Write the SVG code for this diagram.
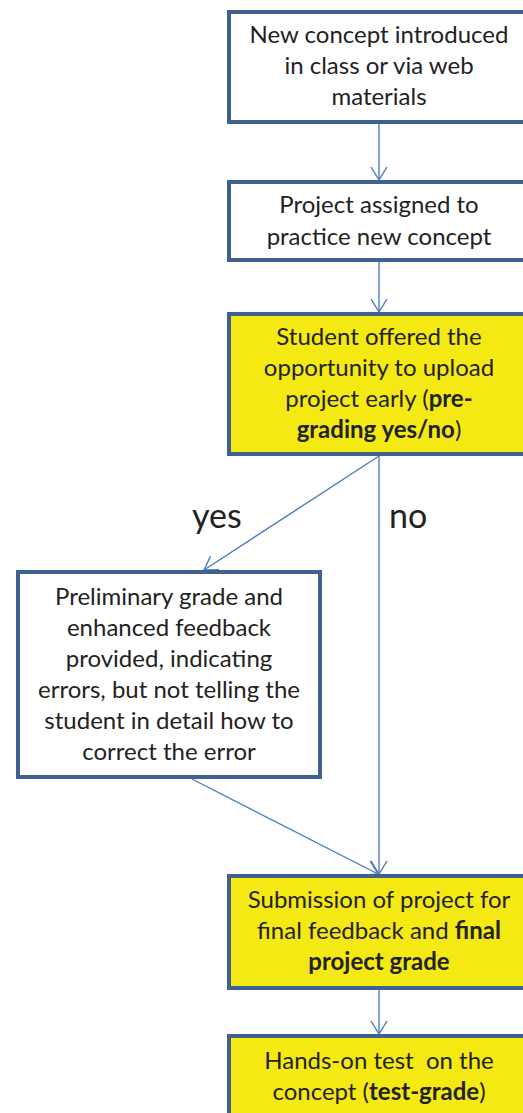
<svg xmlns="http://www.w3.org/2000/svg" width="523" height="1113" viewBox="0 0 523 1113">
<style>
.box{stroke:#3e6190;stroke-width:4;}
.w{fill:#ffffff;}
.y{fill:#f5e914;}
.t{font-family:Lato,"Noto Sans",sans-serif;font-size:24px;fill:#222222;text-anchor:middle;}
.b{font-weight:bold;}
.lbl{font-family:Lato,"Noto Sans",sans-serif;font-size:34px;fill:#222222;}
.c{stroke:#4a7ebb;stroke-width:1.4;fill:none;}
</style>
<defs>
<marker id="ah" viewBox="0 0 14 18" refX="13" refY="9" markerWidth="14" markerHeight="18" markerUnits="userSpaceOnUse" orient="auto">
<path d="M0,1 L13,9 L0,17" fill="none" stroke="#4a7ebb" stroke-width="1.4"/>
</marker>
</defs>
<g id="connectors">
<line class="c" x1="379" y1="124" x2="379" y2="180" marker-end="url(#ah)"/>
<line class="c" x1="379" y1="262" x2="379" y2="312" marker-end="url(#ah)"/>
<line class="c" x1="379" y1="456" x2="204" y2="570" marker-end="url(#ah)"/>
<line class="c" x1="379" y1="456" x2="379" y2="874" marker-end="url(#ah)"/>
<line class="c" x1="192" y1="779" x2="378" y2="874" marker-end="url(#ah)"/>
<line class="c" x1="379" y1="990" x2="379" y2="1034" marker-end="url(#ah)"/>
</g>
<g id="label-yes"><text class="lbl" x="192" y="528">yes</text></g>
<g id="label-no"><text class="lbl" x="389" y="528">no</text></g>
<g id="n1">
<rect class="box w" x="229" y="12" width="302" height="110"/>
<text class="t" x="379" y="43">New concept introduced</text>
<text class="t" x="379" y="74">in class or via web</text>
<text class="t" x="379" y="105">materials</text>
</g>
<g id="n2">
<rect class="box w" x="229" y="182" width="302" height="78"/>
<text class="t" x="379" y="213">Project assigned to</text>
<text class="t" x="379" y="245">practice new concept</text>
</g>
<g id="n3">
<rect class="box y" x="229" y="314" width="302" height="140"/>
<text class="t" x="379" y="345">Student offered the</text>
<text class="t" x="379" y="376">opportunity to upload</text>
<text class="t" x="379" y="407">project early (<tspan class="b">pre-</tspan></text>
<text class="t" x="379" y="438"><tspan class="b">grading yes/no</tspan>)</text>
</g>
<g id="n4">
<rect class="box w" x="18" y="572" width="302" height="205"/>
<text class="t" x="169" y="605">Preliminary grade and</text>
<text class="t" x="169" y="636">enhanced feedback</text>
<text class="t" x="169" y="667">provided, indicating</text>
<text class="t" x="169" y="698">errors, but not telling the</text>
<text class="t" x="169" y="729">student in detail how to</text>
<text class="t" x="169" y="760">correct the error</text>
</g>
<g id="n5">
<rect class="box y" x="229" y="876" width="302" height="112"/>
<text class="t" x="379" y="908">Submission of project for</text>
<text class="t" x="379" y="939">final feedback and <tspan class="b">final</tspan></text>
<text class="t" x="379" y="970"><tspan class="b">project grade</tspan></text>
</g>
<g id="n6">
<rect class="box y" x="229" y="1036" width="302" height="90"/>
<text class="t" x="379" y="1069" style="white-space:pre">Hands-on test  on the</text>
<text class="t" x="379" y="1100">concept (<tspan class="b">test-grade</tspan>)</text>
</g>
</svg>
